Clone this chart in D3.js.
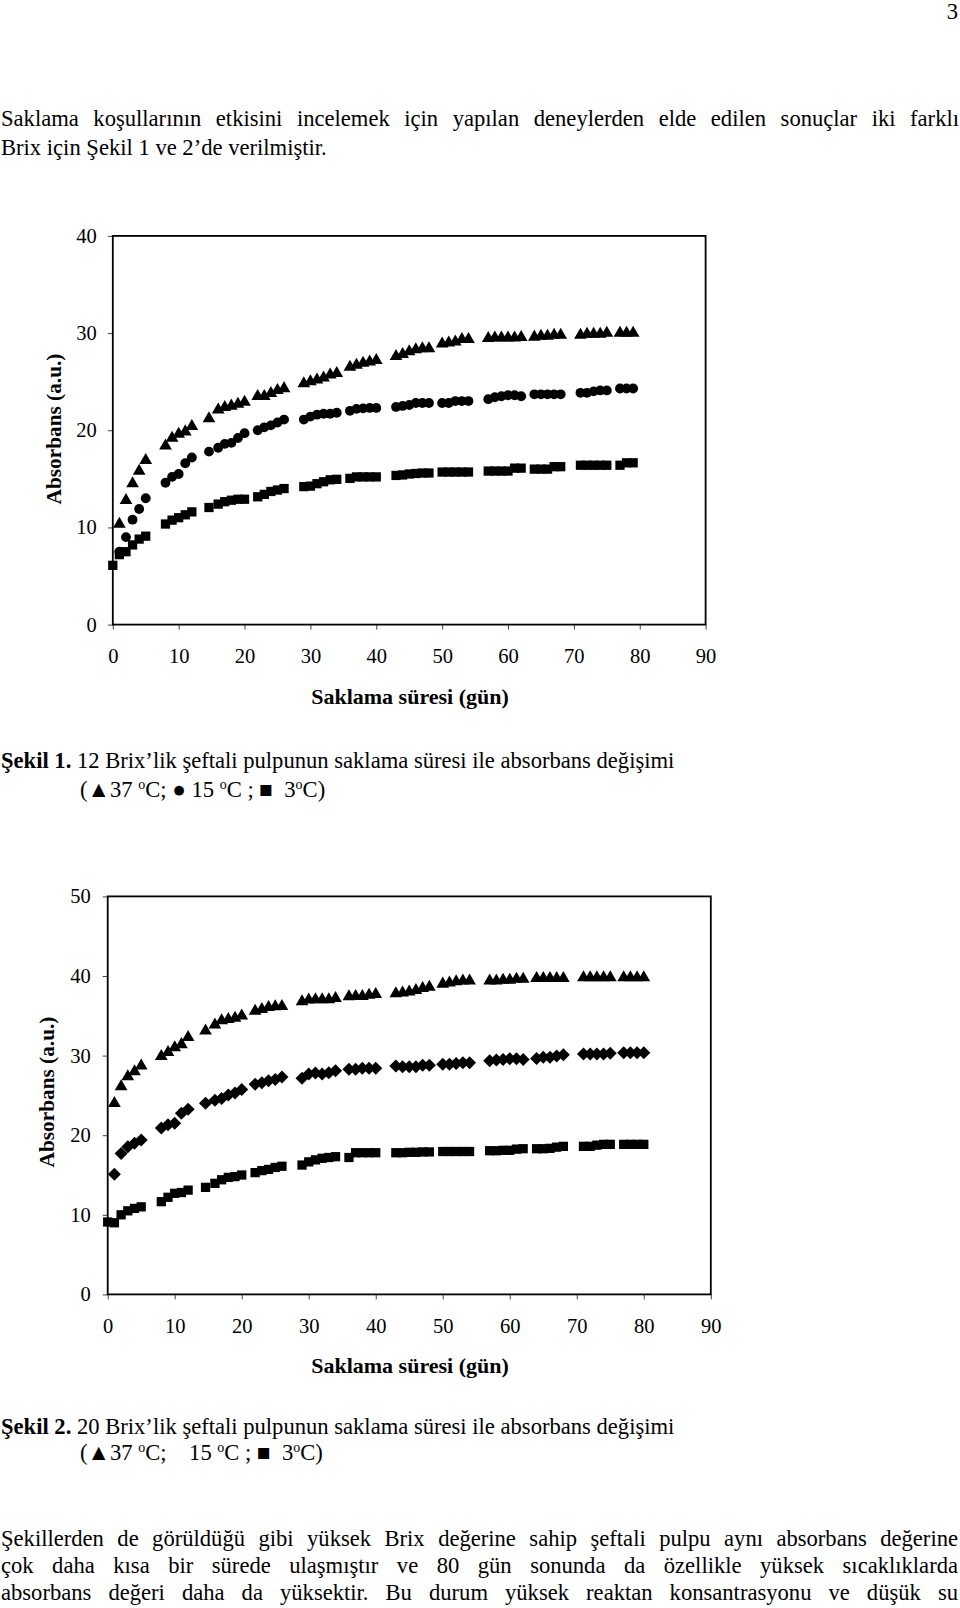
<!DOCTYPE html>
<html><head><meta charset="utf-8">
<script src="https://cdnjs.cloudflare.com/ajax/libs/d3/7.8.5/d3.min.js"></script>
<style>
html,body{margin:0;padding:0;background:#fff;}
svg{display:block;}
text{font-family:"Liberation Serif","Times New Roman",serif;fill:#000;}
</style></head>
<body>
<svg id="page" width="960" height="1608"></svg>
<script>
// ---------------- DATA ----------------
const xTicks = [0,10,20,30,40,50,60,70,80,90];
const yTicks1 = [0,10,20,30,40];
const yTicks2 = [0,10,20,30,40,50];

// Figure 1 (12 Brix)
const days1 = [0,1,2,3,4,5, 8,9,10,11,12, 14.6,16,17,18,19,20, 22,23,24,25,26, 29,30,31,32,33,34, 36,37,38,39,40, 43,44,45,46,47,48, 50,51,52,53,54, 57,58,59,60,61,62, 64,65,66,67,68, 71,72,73,74,75, 77,78,79];
const fig1Temp37 = [null,10.35,12.8,14.5,15.8,16.9, 18.4,19.2,19.6,19.85,20.4, 21.2,22.1,22.35,22.5,22.7,22.9, 23.5,23.5,23.8,24.1,24.3, 24.8,25.0,25.2,25.4,25.7,25.85, 26.5,26.7,26.9,27.05,27.2, 27.6,27.8,28.1,28.3,28.4,28.4, 28.9,29.0,29.1,29.35,29.35, 29.45,29.5,29.5,29.5,29.5,29.55, 29.6,29.7,29.7,29.8,29.8, 29.8,29.9,29.9,29.9,30.0, 30.0,30.0,30.0];
const fig1Temp15 = [null,7.5,9.0,10.8,11.9,13.0, 14.6,15.2,15.5,16.6,17.2, 17.8,18.2,18.6,18.7,19.2,19.7, 20.0,20.3,20.5,20.8,21.1, 21.1,21.4,21.6,21.7,21.7,21.8, 22.0,22.2,22.25,22.3,22.3, 22.4,22.5,22.6,22.8,22.8,22.8, 22.8,22.8,23.0,23.0,23.0, 23.2,23.4,23.5,23.6,23.6,23.5, 23.7,23.7,23.7,23.7,23.7, 23.85,23.85,24.0,24.1,24.1, 24.3,24.3,24.3];
const fig1Temp3 = [6.1,7.2,7.5,8.2,8.8,9.1, 10.35,10.75,11.0,11.3,11.6, 12.05,12.4,12.65,12.8,12.9,12.9, 13.15,13.4,13.7,13.85,14.0, 14.2,14.25,14.5,14.7,14.9,14.95, 15.05,15.2,15.2,15.2,15.2, 15.35,15.4,15.5,15.55,15.6,15.6, 15.7,15.7,15.7,15.7,15.7, 15.8,15.8,15.8,15.8,16.1,16.1, 16.0,16.0,16.0,16.25,16.25, 16.4,16.4,16.4,16.4,16.4, 16.4,16.65,16.65];

// Figure 2 (20 Brix)
const days2 = [0,1,2,3,4,5, 8,9,10,11,12, 14.6,16,17,18,19,20, 22,23,24,25,26, 29,30,31,32,33,34, 36,37,38,39,40, 43,44,45,46,47,48, 50,51,52,53,54, 57,58,59,60,61,62, 64,65,66,67,68, 71,72,73,74,75, 77,78,79,80];
const fig2Temp37 = [null,24.0,26.1,27.35,28.0,28.7, 29.9,30.4,31.0,31.4,32.3, 33.1,33.85,34.4,34.55,34.7,35.0, 35.6,35.8,36.05,36.15,36.2, 36.8,37.0,37.05,37.05,37.05,37.2, 37.4,37.45,37.45,37.6,37.7, 37.8,37.9,38.0,38.2,38.45,38.6, 39.0,39.15,39.3,39.4,39.4, 39.4,39.4,39.5,39.5,39.6,39.6, 39.7,39.7,39.7,39.7,39.7, 39.8,39.8,39.8,39.8,39.8, 39.8,39.8,39.8,39.8];
const fig2Temp15 = [null,15.1,17.7,18.55,19.0,19.4, 20.9,21.3,21.5,22.75,23.25, 24.0,24.4,24.6,25.05,25.3,25.75, 26.4,26.6,26.85,27.0,27.3, 27.15,27.7,27.8,27.7,27.85,28.1, 28.3,28.3,28.4,28.4,28.4, 28.7,28.6,28.6,28.6,28.8,28.8, 28.9,28.9,29.0,29.1,29.1, 29.35,29.45,29.5,29.6,29.6,29.5, 29.65,29.8,29.8,29.95,30.1, 30.2,30.2,30.2,30.2,30.3, 30.35,30.35,30.35,30.35];
const fig2Temp3 = [9.1,9.0,10.0,10.5,10.8,11.0, 11.65,12.2,12.7,12.8,13.1, 13.45,13.95,14.4,14.7,14.8,15.0, 15.3,15.55,15.7,15.95,16.1, 16.25,16.65,16.9,17.1,17.2,17.3, 17.2,17.8,17.8,17.8,17.8, 17.8,17.8,17.85,17.85,17.9,17.9, 17.95,17.95,17.95,17.95,17.95, 18.05,18.05,18.1,18.1,18.25,18.3, 18.3,18.3,18.35,18.5,18.6, 18.6,18.6,18.75,18.85,18.85, 18.85,18.85,18.85,18.85];

// Texts
const pageNumber = "3";
const introLines = ["Saklama koşullarının etkisini incelemek için yapılan deneylerden elde edilen sonuçlar iki farklı",
                    "Brix için Şekil 1 ve 2’de verilmiştir."];
const xTitle = "Saklama süresi (gün)";
const yTitle = "Absorbans (a.u.)";
const caption1 = ["Şekil 1.", " 12 Brix’lik şeftali pulpunun saklama süresi ile absorbans değişimi"];
const caption2 = ["Şekil 2.", " 20 Brix’lik şeftali pulpunun saklama süresi ile absorbans değişimi"];
const legend1 = [["(▲37 ",""],["o","sup"],["C; ● 15 ",""],["o","sup"],["C ; ■  3",""],["o","sup"],["C)",""]];
const legend2 = [["(▲37 ",""],["o","sup"],["C;    15 ",""],["o","sup"],["C ; ■  3",""],["o","sup"],["C)",""]];
const outroLines = ["Şekillerden de görüldüğü gibi yüksek Brix değerine sahip şeftali pulpu aynı absorbans değerine",
                    "çok daha kısa bir sürede ulaşmıştır ve 80 gün sonunda da özellikle yüksek sıcaklıklarda",
                    "absorbans değeri daha da yüksektir. Bu durum yüksek reaktan konsantrasyonu ve düşük su"];

// ---------------- DRAWING ----------------
const svg = d3.select("#page");
svg.append("rect").attr("width",960).attr("height",1608).attr("fill","#fff");
const FS = 22.6;

function justified(line, y, x0, x1, fs) {
  const words = line.split(" ");
  const t = svg.append("text").attr("y", y).attr("font-size", fs);
  const spans = words.map(w => t.append("tspan").text(w));
  const widths = spans.map(s => s.node().getComputedTextLength());
  const total = d3.sum(widths);
  const gap = (x1 - x0 - total) / (words.length - 1);
  let x = x0;
  spans.forEach((s, i) => { s.attr("x", x); x += widths[i] + gap; });
}
function plain(parts, x, y, fs) {
  const t = svg.append("text").attr("x", x).attr("y", y).attr("font-size", fs).attr("xml:space","preserve").style("white-space","pre");
  parts.forEach(([s, k]) => {
    if (k === "sup") t.append("tspan").attr("dy", -8).attr("font-size", fs*0.62).text(s);
    else if (k === "bold") t.append("tspan").attr("font-weight","bold").text(s);
    else {
      const sp = t.append("tspan").text(s);
      const prev = sp.node().previousSibling;
      if (prev && prev.getAttribute("dy")) sp.attr("dy", 8);
    }
  });
  return t;
}

svg.append("text").attr("x", 958).attr("y", 19).attr("text-anchor","end").attr("font-size", FS).text(pageNumber);
justified(introLines[0], 126, 1, 959, FS);
plain([[introLines[1], ""]], 1, 155, FS);

function drawChart(cfg, days, series, yTicks, yMax) {
  const x = d3.scaleLinear().domain([0, 90]).range([cfg.left, cfg.right]);
  const y = d3.scaleLinear().domain([0, yMax]).range([cfg.bottom, cfg.top]);
  const g = svg.append("g");

  const xa = g.append("g").attr("transform", `translate(0,${cfg.bottom})`)
    .call(d3.axisBottom(x).tickValues(xTicks).tickSize(5).tickSizeOuter(0).tickPadding(19));
  const ya = g.append("g").attr("transform", `translate(${cfg.left},0)`)
    .call(d3.axisLeft(y).tickValues(yTicks).tickSize(5).tickSizeOuter(0).tickPadding(cfg.yPad));
  [xa, ya].forEach(a => {
    a.select(".domain").remove();
    a.selectAll(".tick line").attr("stroke", "#444").attr("stroke-width", 1);
    a.selectAll(".tick text").attr("font-family", '"Liberation Serif","Times New Roman",serif')
      .attr("font-size", 20.5).attr("fill", "#000");
  });

  g.append("rect").attr("x", cfg.left).attr("y", cfg.top)
    .attr("width", cfg.right - cfg.left).attr("height", cfg.bottom - cfg.top)
    .attr("fill", "none").attr("stroke", "#000").attr("stroke-width", 1.8);

  series.forEach(s => {
    const pts = days.map((d, i) => [d, s.values[i]]).filter(p => p[1] != null);
    g.append("g").selectAll("path").data(pts).join("path")
      .attr("transform", p => `translate(${x(p[0])},${y(p[1])})`)
      .attr("d", d3.symbol().type(s.type).size(s.size))
      .attr("fill", "#000");
  });

  g.append("text").attr("x", cfg.xtX).attr("y", cfg.xtY).attr("text-anchor", "middle")
    .attr("font-size", 22).attr("font-weight", "bold").text(xTitle);
  g.append("text").attr("transform", `translate(${cfg.ytX},${cfg.ytY}) rotate(-90)`)
    .attr("text-anchor", "middle").attr("font-size", 21.3).attr("font-weight", "bold").text(yTitle);
}

const diamondType = {
  draw(ctx, size) {
    const r = Math.sqrt(size) * 0.62;
    ctx.moveTo(0, -r); ctx.lineTo(r, 0); ctx.lineTo(0, r); ctx.lineTo(-r, 0); ctx.closePath();
  }
};

drawChart({left:112.8, right:705.6, top:235.9, bottom:624.6, yPad:11, xtX:410, xtY:704, ytX:61, ytY:429},
  days1,
  [{values: fig1Temp37, type: d3.symbolTriangle, size: 70},
   {values: fig1Temp15, type: d3.symbolCircle, size: 76},
   {values: fig1Temp3,  type: d3.symbolSquare, size: 86}],
  yTicks1, 40);

plain([[caption1[0], "bold"], [caption1[1], ""]], 1, 768, FS);
plain(legend1, 80, 797, FS);

drawChart({left:107.7, right:710.8, top:896.4, bottom:1294.4, yPad:12, xtX:410, xtY:1373, ytX:54, ytY:1092},
  days2,
  [{values: fig2Temp37, type: d3.symbolTriangle, size: 70},
   {values: fig2Temp15, type: diamondType, size: 110},
   {values: fig2Temp3,  type: d3.symbolSquare, size: 86}],
  yTicks2, 50);

plain([[caption2[0], "bold"], [caption2[1], ""]], 1, 1434, FS);
plain(legend2, 80, 1460, FS);

justified(outroLines[0], 1546, 1, 958, FS);
justified(outroLines[1], 1573, 1, 958, FS);
justified(outroLines[2], 1600, 1, 958, FS);
</script>
</body></html>
